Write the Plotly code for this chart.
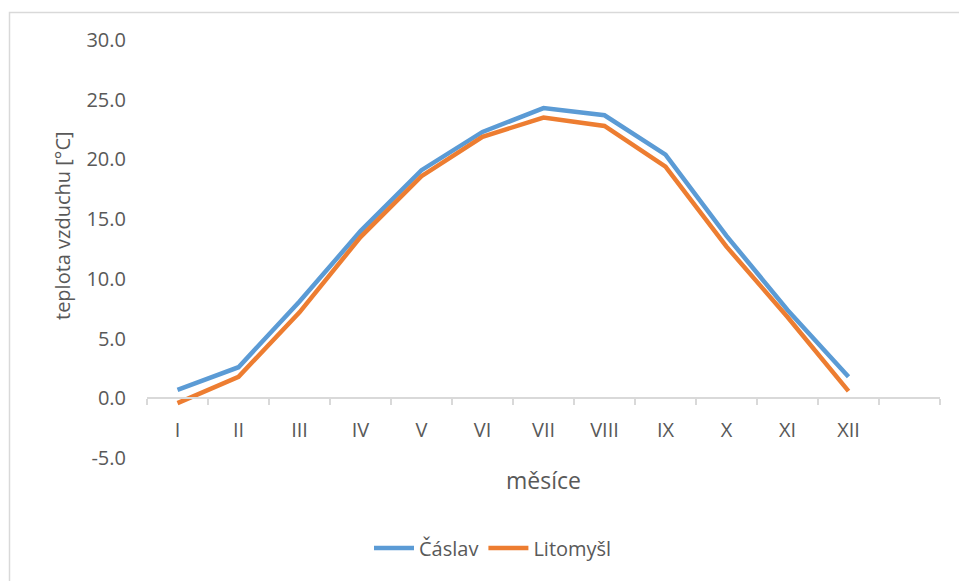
import plotly.graph_objects as go

months = ["I", "II", "III", "IV", "V", "VI", "VII", "VIII", "IX", "X", "XI", "XII"]
caslav = [0.7, 2.6, 8.1, 14.0, 19.1, 22.3, 24.3, 23.7, 20.4, 13.6, 7.4, 1.8]
litomysl = [-0.4, 1.8, 7.2, 13.5, 18.6, 21.9, 23.5, 22.8, 19.4, 12.7, 6.8, 0.6]
y_ticks = [-5, 0, 5, 10, 15, 20, 25, 30]
y_ticktext = [f"{v:.1f}" for v in y_ticks]

W, H = 959, 581
L, R, T, B = 147, 19, 40, 123
pw, ph = W - L - R, H - T - B
FONT = "Open Sans"
GREY = "#595959"

def px_x(x):
    return (x - L) / pw

def px_y(y):
    return (H - B - y) / ph

fig = go.Figure()
fig.add_trace(go.Scatter(x=months, y=caslav, mode="lines", name="Čáslav",
                         line=dict(color="#5B9BD5", width=4.5)))
fig.add_trace(go.Scatter(x=months, y=litomysl, mode="lines", name="Litomyšl",
                         line=dict(color="#ED7D31", width=4.5)))

fig.update_layout(
    width=W, height=H,
    margin=dict(l=L, r=R, t=T, b=B),
    paper_bgcolor="white", plot_bgcolor="white",
    font=dict(family=FONT, size=20, color=GREY),
    showlegend=True,
    legend=dict(orientation="h", x=px_x(493), xanchor="center",
                y=px_y(548), yanchor="middle", font=dict(size=20, color=GREY),
                itemwidth=40, traceorder="normal"),
    xaxis=dict(
        type="category", categoryorder="array", categoryarray=months + [" "],
        range=[-0.5, 12.5], anchor="free", position=5 / 35,
        showline=True, linecolor="#d9d9d9", linewidth=1.5,
        ticks="outside", tickson="boundaries", ticklen=6, tickcolor="#d9d9d9", tickwidth=1.5,
        ticklabelstandoff=14, showgrid=False, zeroline=False,
        tickfont=dict(size=20, color=GREY),
    ),
    yaxis=dict(
        range=[-5, 30], tickvals=y_ticks, ticktext=y_ticktext,
        showgrid=False, zeroline=False, showline=False, ticks="",
        ticklabelstandoff=20, tickfont=dict(size=20, color=GREY),
    ),
    shapes=[dict(type="rect", xref="paper", yref="paper",
                 x0=px_x(9.5), x1=px_x(990), y0=px_y(12.5), y1=px_y(620),
                 line=dict(color="#d9d9d9", width=1.5))],
    annotations=[
        dict(text="měsíce", xref="paper", yref="paper", x=0.5, y=px_y(480),
             showarrow=False, font=dict(size=23, color=GREY), xanchor="center", yanchor="middle"),
        dict(text="teplota vzduchu [°C]", xref="paper", yref="paper", x=px_x(62), y=px_y(226),
             showarrow=False, textangle=-90, font=dict(size=20, color=GREY),
             xanchor="center", yanchor="middle"),
    ],
)

fig.write_html("out.html")
